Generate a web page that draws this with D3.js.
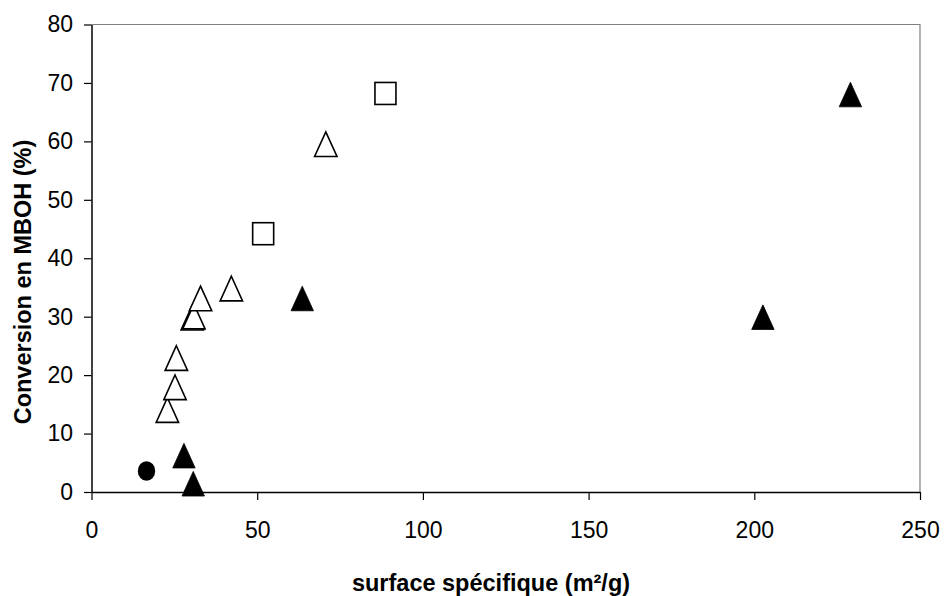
<!DOCTYPE html>
<html><head><meta charset="utf-8">
<script src="https://cdn.jsdelivr.net/npm/d3@7"></script>
<style>body{margin:0;background:#fff}svg{display:block}</style>
</head><body>
<script>
const xTicks = [0, 50, 100, 150, 200, 250];
const yTicks = [0, 10, 20, 30, 40, 50, 60, 70, 80];
const circlePts = [[16.6, 3.6]];
const filledTriangles = [[27.9, 6.2], [30.7, 1.4], [63.6, 33.1], [202.6, 29.9], [229.0, 68.0]];
const openTriangles = [[22.9, 14.0], [25.2, 17.9], [25.6, 22.9], [30.4, 29.8], [30.9, 30.0], [32.9, 33.1], [42.2, 34.8], [70.7, 59.5]];
const openSquares = [[51.8, 44.2], [88.7, 68.2]];
const xTitle = "surface spécifique (m²/g)";
const yTitle = "Conversion en MBOH (%)";

const W = 945, H = 596;
const L = 91.5, R = 920, T = 24.5, B = 492;
const font = "Arial, 'Liberation Sans', sans-serif";
const svg = d3.select("body").append("svg").attr("width", W).attr("height", H);
const x = d3.scaleLinear().domain([0, 250]).range([L, R]);
const y = d3.scaleLinear().domain([0, 80]).range([B, T]);

svg.append("path").attr("d", `M${L},${T}H${R}V${B}`).attr("fill", "none").attr("stroke", "#808080").attr("stroke-width", 1.2);

const ya = svg.append("g").attr("transform", `translate(${L},0)`)
  .call(d3.axisLeft(y).tickValues(yTicks).tickSize(7.5).tickPadding(11).tickSizeOuter(0));
const xa = svg.append("g").attr("transform", `translate(0,${B})`)
  .call(d3.axisBottom(x).tickValues(xTicks).tickSize(8).tickPadding(22).tickSizeOuter(0));
[ya, xa].forEach(g => {
  g.select(".domain").attr("stroke", "#000").attr("stroke-width", 1.5);
  g.selectAll(".tick line").attr("stroke", "#000").attr("stroke-width", 1.2);
  g.selectAll("text").attr("font-family", font).attr("font-size", 23).attr("fill", "#000");
});

const triPath = "M0,-12.4L11.2,12.2L-11.2,12.2Z";
svg.append("g").selectAll("path").data(openTriangles).join("path")
  .attr("d", triPath).attr("transform", d => `translate(${x(d[0])},${y(d[1])})`)
  .attr("fill", "#fff").attr("stroke", "#000").attr("stroke-width", 1.6);
svg.append("g").selectAll("rect").data(openSquares).join("rect")
  .attr("x", d => x(d[0]) - 10.5).attr("y", d => y(d[1]) - 11).attr("width", 21).attr("height", 22)
  .attr("fill", "#fff").attr("stroke", "#000").attr("stroke-width", 1.6);
svg.append("g").selectAll("path").data(filledTriangles).join("path")
  .attr("d", triPath).attr("transform", d => `translate(${x(d[0])},${y(d[1])})`)
  .attr("fill", "#000").attr("stroke", "#000").attr("stroke-width", 0.8);
svg.append("g").selectAll("ellipse").data(circlePts).join("ellipse")
  .attr("cx", d => x(d[0])).attr("cy", d => y(d[1])).attr("rx", 8.7).attr("ry", 9.8).attr("fill", "#000");

svg.append("text").attr("x", 491).attr("y", 591).attr("text-anchor", "middle")
  .attr("font-family", font).attr("font-weight", "bold").attr("font-size", 23.5).text(xTitle);
svg.append("text").attr("transform", "translate(31,282) rotate(-90)").attr("text-anchor", "middle")
  .attr("font-family", font).attr("font-weight", "bold").attr("font-size", 23.5).text(yTitle);
</script>
</body></html>
